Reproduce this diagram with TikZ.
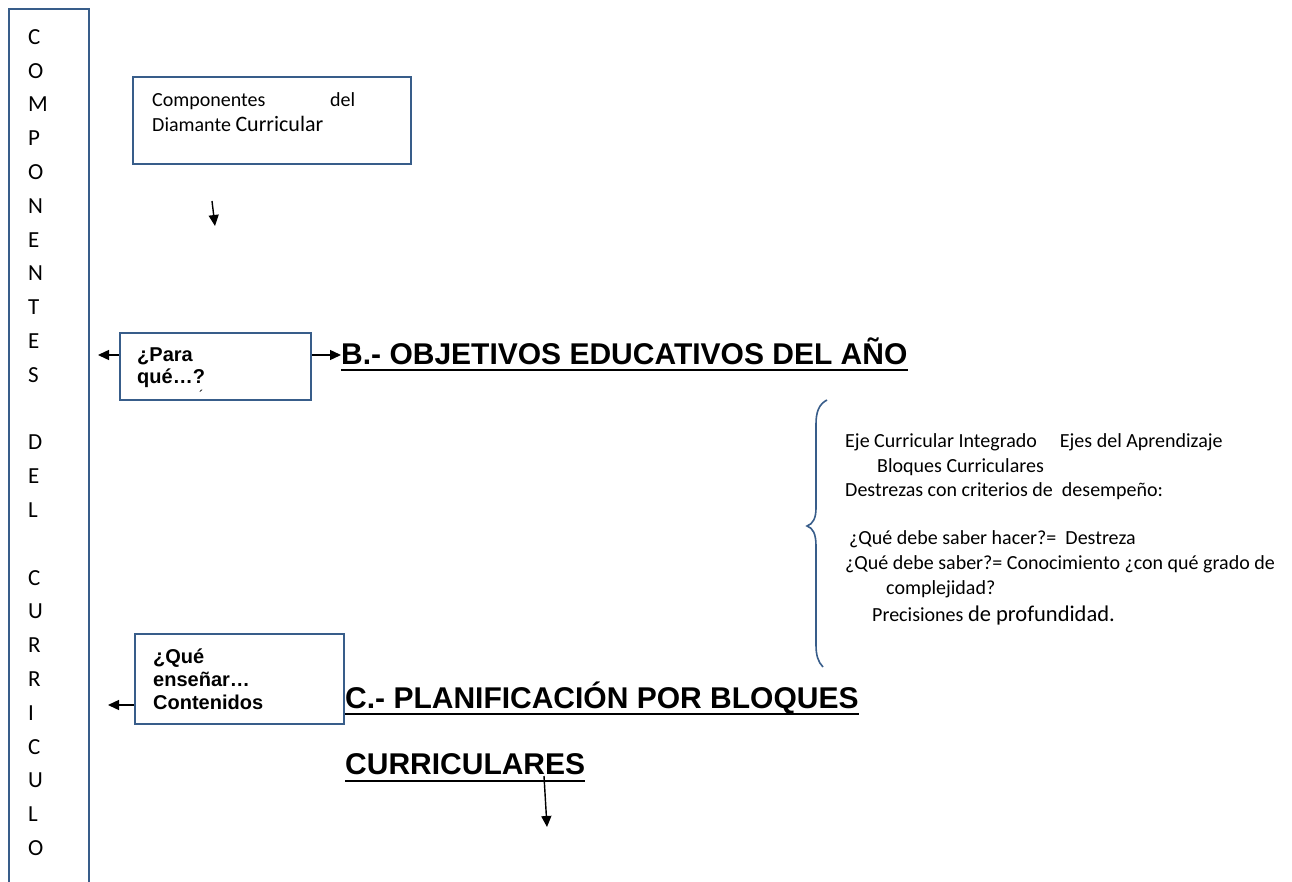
\documentclass[tikz,border=0pt]{standalone}
\usepackage{fontspec}
\setmainfont{Carlito}
\newfontfamily\arialfont{Liberation Sans}
\usetikzlibrary{arrows.meta}
\definecolor{boxblue}{RGB}{56,93,138}
\begin{document}
\begin{tikzpicture}[x=1pt,y=-1pt,
  box/.style={draw=boxblue, line width=2pt, inner sep=0pt, anchor=north west},
  txt/.style={inner sep=0pt, anchor=base west, font=\fontsize{20}{24}\selectfont},
  btxt/.style={inner sep=0pt, anchor=base west, font=\arialfont\bfseries\fontsize{20}{23}\selectfont},
  head/.style={inner sep=0pt, anchor=base west, font=\arialfont\bfseries\fontsize{30}{36}\selectfont},
  uline/.style={line width=2.6pt},
  letter/.style={inner sep=0pt, anchor=base west, font=\fontsize{23}{28}\selectfont},
  arr/.style={line width=1.4pt, -{Triangle[length=11pt,width=10pt]}},
  bracestyle/.style={draw=boxblue, line width=1.6pt}
]
\useasboundingbox (0,0) rectangle (1292,882);
\fill[white] (0,0) rectangle (1292,882);

% left tall box
\node[box, minimum width=80pt, minimum height=900pt] (side) at (8,8) {};
\foreach \ch [count=\i from 0] in {C,O,M,P,O,N,E,N,T,E,S,{},D,E,L,{},C,U,R,R,I,C,U,L,O}{
  \node[letter] (L\i) at (28,{44.3+\i*33.8}) {\ch};
}

% box 1
\node[box, minimum width=278pt, minimum height=87pt] (b1) at (132,76) {};
\node[txt] (t1a) at (152,107) {Componentes};
\node[txt] (t1b) at (330,107) {del};
\node[txt] (t1c) at (152,132) {Diamante {\fontsize{22}{26}\selectfont Curricular}};
\coordinate (a1s) at (212,201);
\coordinate (a1e) at (215,226);
\draw[arr] (a1s) -- (a1e);

% box 2
\node[box, minimum width=191pt, minimum height=67pt] (b2) at (119,332) {};
\node[btxt] (t2a) at (137,361) {¿Para};
\node[btxt] (t2b) at (137,383) {qué…?};
\node[inner sep=0pt, anchor=base west, font=\arialfont\fontsize{14}{16}\selectfont] (t2c) at (199,400) {´};
\coordinate (a2) at (98,355);
\draw[arr] (b2.west |- a2) -- (a2);
\coordinate (a3) at (341,355);
\draw[arr] (b2.east |- a3) -- (a3);

% heading B
\node[head] (hB) at (341,364) {B.- OBJETIVOS EDUCATIVOS DEL AÑO};
\draw[uline] ([yshift=-6pt]hB.base west) -- ([yshift=-6pt]hB.base east);

% brace
\draw[bracestyle] (827,400) .. controls (819,404) and (816,412) .. (816,424)
  -- (816,508) .. controls (816,518) and (813,524) .. (807,526)
  .. controls (813,528) and (816,534) .. (816,546)
  -- (816,645) .. controls (816,655) and (818,662) .. (823,667);

% text block
\node[txt] (e1) at (845,447) {Eje Curricular Integrado\hspace{23pt}Ejes del Aprendizaje};
\node[txt] (e2) at (877,472) {Bloques Curriculares};
\node[txt] (e3) at (845,496) {Destrezas con criterios de\ \ desempeño:};
\node[txt] (e4) at (849,544) {¿Qué debe saber hacer?=\ \ Destreza};
\node[txt] (e5) at (845,569) {¿Qué debe saber?= Conocimiento ¿con qué grado de};
\node[txt] (e6) at (886,594) {complejidad?};
\node[txt] (e7) at (872,621) {Precisiones {\fontsize{22.5}{27}\selectfont de profundidad.}};

% box 3
\node[box, minimum width=209pt, minimum height=90pt] (b3) at (134,633) {};
\node[btxt] (t3a) at (153,663) {¿Qué};
\node[btxt] (t3b) at (153,686) {enseñar…};
\node[btxt] (t3c) at (153,709) {Contenidos};
\coordinate (a4) at (108,705);
\draw[arr] (b3.west |- a4) -- (a4);

% heading C
\node[head] (hC1) at (345,708) {C.- PLANIFICACIÓN POR BLOQUES};
\draw[uline] ([yshift=-6pt]hC1.base west) -- ([yshift=-6pt]hC1.base east);
\node[head] (hC2) at (345,774) {CURRICULARES};
\draw[uline] ([yshift=-7pt]hC2.base west) -- ([yshift=-7pt]hC2.base east);
\coordinate (a5s) at (544,776);
\coordinate (a5e) at (547,827);
\draw[arr] (a5s) -- (a5e);
\end{tikzpicture}
\end{document}
